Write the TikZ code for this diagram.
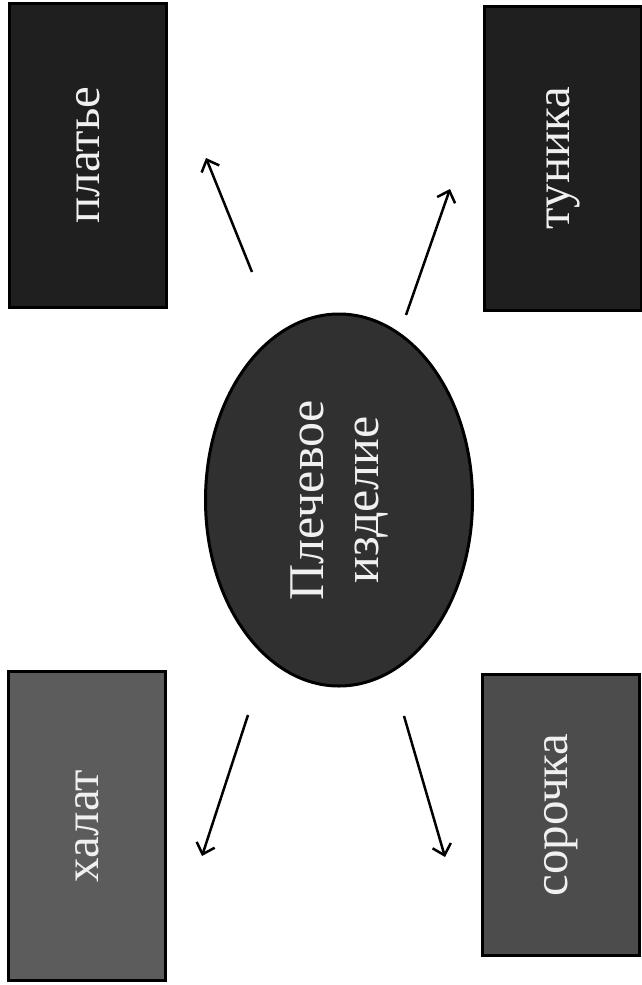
\documentclass[tikz,border=0pt]{standalone}
\usepackage{fontspec}
\setmainfont{Liberation Serif}
\usepackage{xcolor}
\usetikzlibrary{shapes.geometric}
\usetikzlibrary{arrows.meta}
\usetikzlibrary{math}

\definecolor{boxdark}{gray}{0.12}
\definecolor{boxmid}{gray}{0.30}
\definecolor{boxlight}{gray}{0.36}
\definecolor{ovalfill}{gray}{0.19}
\definecolor{labeltext}{gray}{0.94}

\begin{document}
\begin{tikzpicture}[x=1pt,y=-1pt,
  box/.style={draw=black, line width=3pt, rectangle, rotate=90,
    text=labeltext, font=\fontsize{49}{54}\selectfont, inner sep=0pt},
  oval/.style={draw=black, line width=3pt, ellipse, rotate=90,
    text=labeltext, font=\fontsize{50}{55}\selectfont, align=center,
    inner sep=0pt},
  link/.style={line width=2.5pt, -{Straight Barb[length=10pt,width=19pt]}}]

  \tikzmath{
    \boxw = 157; % short side of a box
    \boxh = 304; % long side of a box
  }

  \useasboundingbox (0,0) rectangle (641,985);

  % central oval
  \node[oval, fill=ovalfill, minimum width=372, minimum height=267]
    (plech) at (339,500) {Плечевое\\изделие};

  % the four garments
  \node[box, fill=boxdark, minimum width=\boxh, minimum height=\boxw]
    (plat) at (88,155) {платье};
  \node[box, fill=boxdark, minimum width=\boxh, minimum height=\boxw]
    (tun) at (563,158) {туника};
  \node[box, fill=boxlight, minimum width=309, minimum height=\boxw]
    (hal) at (87,826) {халат};
  \node[box, fill=boxmid, minimum width=281, minimum height=\boxw]
    (soro) at (561,815) {сорочка};

  % free ends of the arrows
  \coordinate (plat-s) at (252,272);
  \coordinate (plat-e) at (206,158);
  \coordinate (tun-s)  at (406,315);
  \coordinate (tun-e)  at (450,189);
  \coordinate (hal-s)  at (248,715);
  \coordinate (hal-e)  at (202,856);
  \coordinate (soro-s) at (404,716);
  \coordinate (soro-e) at (445,857);

  % arrows
  \draw[link] (plat-s) -- (plat-e);
  \draw[link] (tun-s) -- (tun-e);
  \draw[link] (hal-s) -- (hal-e);
  \draw[link] (soro-s) -- (soro-e);

\end{tikzpicture}
\end{document}
